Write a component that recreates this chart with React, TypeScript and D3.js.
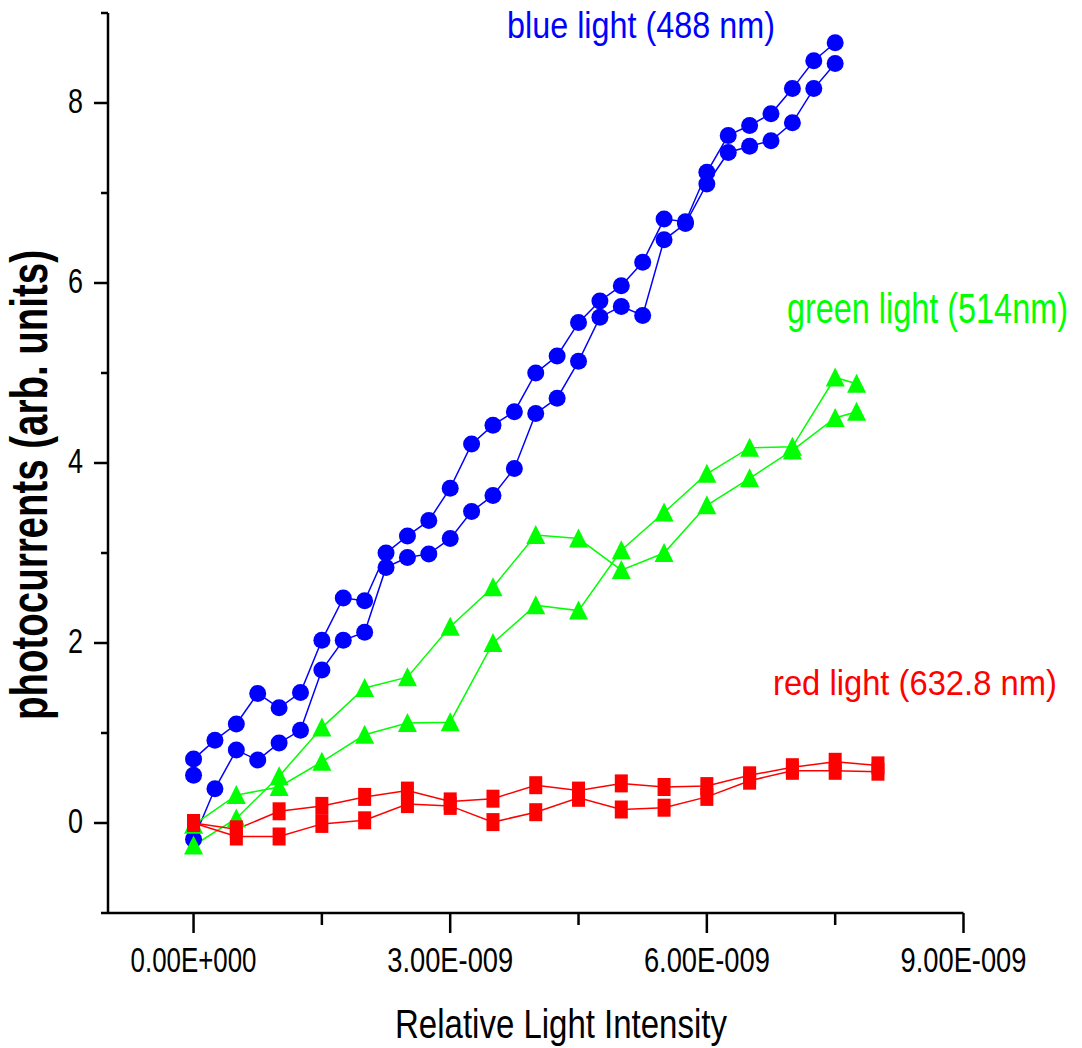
import React from 'react';
import * as d3 from 'd3';

// Relative light intensity, in units of 1e-9
const blueLowX = [0, 0.25, 0.5, 0.75, 1, 1.25, 1.5, 1.75, 2, 2.25, 2.5, 2.75, 3, 3.25, 3.5, 3.75, 4, 4.25, 4.5, 4.75, 5, 5.25, 5.5, 5.75, 6, 6.25, 6.5, 6.75, 7, 7.25, 7.5];
const blueLowY = [-0.18, 0.38, 0.81, 0.70, 0.89, 1.03, 1.70, 2.03, 2.12, 2.84, 2.95, 2.99, 3.16, 3.46, 3.64, 3.94, 4.55, 4.72, 5.13, 5.62, 5.74, 5.64, 6.48, 6.66, 7.10, 7.45, 7.52, 7.58, 7.78, 8.16, 8.44];
const blueHighX = [0, 0, 0.25, 0.5, 0.75, 1, 1.25, 1.5, 1.75, 2, 2.25, 2.5, 2.75, 3, 3.25, 3.5, 3.75, 4, 4.25, 4.5, 4.75, 5, 5.25, 5.5, 5.75, 6, 6.25, 6.5, 6.75, 7, 7.25, 7.5];
const blueHighY = [0.53, 0.71, 0.92, 1.10, 1.44, 1.28, 1.45, 2.03, 2.50, 2.47, 3.00, 3.19, 3.36, 3.72, 4.21, 4.42, 4.57, 5.00, 5.19, 5.56, 5.80, 5.97, 6.23, 6.71, 6.68, 7.23, 7.64, 7.75, 7.88, 8.16, 8.47, 8.67];

const greenX = [0, 0.5, 1, 1.5, 2, 2.5, 3, 3.5, 4, 4.5, 5, 5.5, 6, 6.5, 7, 7.5, 7.75];
const greenAY = [-0.25, 0.05, 0.52, 1.06, 1.50, 1.62, 2.18, 2.62, 3.20, 3.16, 2.81, 3.00, 3.53, 3.83, 4.14, 4.50, 4.57];
const greenBY = [-0.02, 0.31, 0.40, 0.68, 0.98, 1.11, 1.12, 2.00, 2.42, 2.36, 3.03, 3.45, 3.88, 4.17, 4.18, 4.95, 4.88];

const redX = [0, 0.5, 1, 1.5, 2, 2.5, 3, 3.5, 4, 4.5, 5, 5.5, 6, 6.5, 7, 7.5, 8];
const redAY = [0.00, -0.07, 0.13, 0.19, 0.29, 0.36, 0.24, 0.27, 0.42, 0.36, 0.44, 0.40, 0.41, 0.53, 0.62, 0.68, 0.64];
const redBY = [0.00, -0.15, -0.15, -0.01, 0.03, 0.21, 0.19, 0.01, 0.12, 0.28, 0.15, 0.17, 0.29, 0.47, 0.58, 0.58, 0.57];

const xMajorTicks = [0, 3, 6, 9];
const xMajorLabels = ['0.00E+000', '3.00E-009', '6.00E-009', '9.00E-009'];
const xMinorTicks = [1.5, 4.5, 7.5];
const yMajorTicks = [0, 2, 4, 6, 8];
const yMinorTicks = [-1, 1, 3, 5, 7, 9];

const BLUE = '#0000ff';
const GREEN = '#00ff00';
const RED = '#ff0000';
const FONT = '"Liberation Sans", Arial, sans-serif';

type Pt = [number, number];
const zip = (xs: number[], ys: number[]): Pt[] => xs.map((x, i) => [x, ys[i]]);

let measureCtx: CanvasRenderingContext2D | null = null;
function measure(text: string, size: number, weight: string): number {
  if (!measureCtx) measureCtx = document.createElement('canvas').getContext('2d');
  if (!measureCtx) return text.length * size * 0.55;
  measureCtx.font = `${weight} ${size}px "Liberation Sans", Arial, sans-serif`;
  return measureCtx.measureText(text).width;
}

// Tall, horizontally condensed text: glyph height from `size`, total width `width`.
function NarrowText(props: {
  x: number; y: number; size: number; width: number; fill: string;
  anchor?: 'start' | 'middle' | 'end'; weight?: string; rotate?: number; children: string;
}) {
  const { x, y, size, width, fill, anchor = 'start', weight = 'normal', rotate = 0, children } = props;
  const natural = measure(children, size, weight);
  const sx = width / natural;
  return (
    <text
      transform={`translate(${x},${y}) rotate(${rotate}) scale(${sx},1)`}
      fontFamily={FONT}
      fontSize={size}
      fontWeight={weight}
      textAnchor={anchor}
      fill={fill}
    >
      {children}
    </text>
  );
}

export default function App() {
  const W = 1082;
  const H = 1048;
  const x = d3.scaleLinear().domain([-1, 9]).range([108, 963.5]);
  const y = d3.scaleLinear().domain([-1, 9]).range([913, 13]);
  const line = d3.line<Pt>().x(d => x(d[0])).y(d => y(d[1]));

  const blueSeries = [zip(blueLowX, blueLowY), zip(blueHighX, blueHighY)];
  const greenSeries = [zip(greenX, greenAY), zip(greenX, greenBY)];
  const redSeries = [zip(redX, redAY), zip(redX, redBY)];

  const x0 = x(-1);
  const yBase = y(-1);

  return (
    <svg width={W} height={H} style={{ position: 'absolute', left: 0, top: 0, background: '#fff' }}>
      <rect width={W} height={H} fill="#fff" />

      {/* connecting lines */}
      {blueSeries.map((s, i) => (
        <path key={`bl${i}`} d={line(s) || ''} fill="none" stroke={BLUE} strokeWidth={1.5} />
      ))}
      {greenSeries.map((s, i) => (
        <path key={`gl${i}`} d={line(s) || ''} fill="none" stroke={GREEN} strokeWidth={1.5} />
      ))}
      {redSeries.map((s, i) => (
        <path key={`rl${i}`} d={line(s) || ''} fill="none" stroke={RED} strokeWidth={1.5} />
      ))}

      {/* markers */}
      {blueSeries.map((s, i) =>
        s.map((d, j) => <circle key={`bc${i}-${j}`} cx={x(d[0])} cy={y(d[1])} r={8.5} fill={BLUE} />)
      )}
      {greenSeries.map((s, i) =>
        s.map((d, j) => {
          const cx = x(d[0]);
          const cy = y(d[1]);
          return (
            <path
              key={`gm${i}-${j}`}
              d={`M${cx},${cy - 10}L${cx + 9.5},${cy + 9}L${cx - 9.5},${cy + 9}Z`}
              fill={GREEN}
            />
          );
        })
      )}
      {redSeries.map((s, i) =>
        s.map((d, j) => (
          <rect key={`rm${i}-${j}`} x={x(d[0]) - 6.5} y={y(d[1]) - 9} width={13} height={18} fill={RED} />
        ))
      )}

      {/* axes */}
      <g stroke="#000" strokeWidth={2.5} fill="none">
        <line x1={x0} y1={y(9)} x2={x0} y2={yBase} />
        <line x1={x0} y1={yBase} x2={x(9)} y2={yBase} />
        {yMajorTicks.map(t => (
          <line key={`ymj${t}`} x1={x0 - 14} y1={y(t)} x2={x0} y2={y(t)} />
        ))}
        {yMinorTicks.map(t => (
          <line key={`ymn${t}`} x1={x0 - 7} y1={y(t)} x2={x0} y2={y(t)} />
        ))}
        {xMajorTicks.map(t => (
          <line key={`xmj${t}`} x1={x(t)} y1={yBase} x2={x(t)} y2={yBase + 20} />
        ))}
        {xMinorTicks.map(t => (
          <line key={`xmn${t}`} x1={x(t)} y1={yBase} x2={x(t)} y2={yBase + 12} />
        ))}
      </g>

      {/* tick labels */}
      {yMajorTicks.map(t => (
        <NarrowText key={`yl${t}`} x={83} y={y(t) + 10} size={36} width={15} anchor="end" fill="#000">
          {String(t)}
        </NarrowText>
      ))}
      {xMajorTicks.map((t, i) => (
        <NarrowText key={`xl${t}`} x={x(t)} y={972} size={35} width={126} anchor="middle" fill="#000">
          {xMajorLabels[i]}
        </NarrowText>
      ))}

      {/* axis titles */}
      <NarrowText x={561} y={1038} size={40} width={332} anchor="middle" fill="#000">
        Relative Light Intensity
      </NarrowText>
      <NarrowText x={47} y={485} size={52} width={470} anchor="middle" weight="bold" rotate={-90} fill="#000">
        photocurrents (arb. units)
      </NarrowText>

      {/* series labels */}
      <NarrowText x={507} y={38} size={37} width={268} fill={BLUE}>
        blue light (488 nm)
      </NarrowText>
      <NarrowText x={787} y={323} size={42} width={281} fill={GREEN}>
        green light (514nm)
      </NarrowText>
      <NarrowText x={773} y={695} size={35} width={284} fill={RED}>
        red light (632.8 nm)
      </NarrowText>
    </svg>
  );
}
